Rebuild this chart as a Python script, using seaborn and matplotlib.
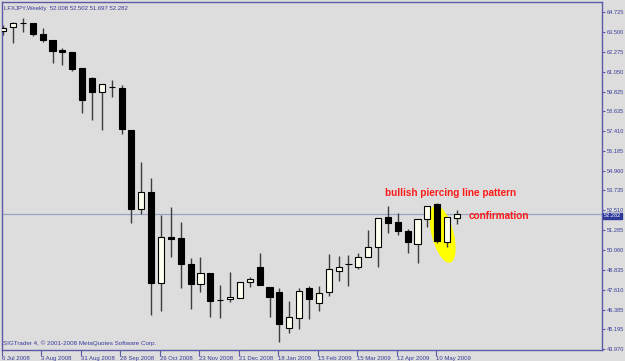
import numpy as np
import pandas as pd
import matplotlib
matplotlib.use("Agg")
import matplotlib.pyplot as plt
import seaborn as sns
from matplotlib.patches import Polygon

# ---- data (LFXJPY weekly, 6 Jul 2008 .. 24 May 2009) ----
opens  = [63.56, 63.80, 64.06, 64.05, 63.37, 63.00, 62.38, 62.26, 61.28, 60.66,
          59.80, 60.11, 60.04, 57.46, 52.59, 53.64, 48.03, 50.87, 50.81, 49.20,
          47.97, 48.65, 46.99, 47.05, 47.11, 48.10, 49.02, 47.79, 47.48, 45.26,
          45.88, 47.73, 46.80, 47.48, 48.77, 49.20, 49.02, 49.64, 50.25, 52.10,
          51.79, 51.24, 50.44, 51.98, 52.90, 50.56, 52.008]
highs  = [63.92, 64.11, 64.36, 64.07, 63.74, 63.02, 62.51, 62.28, 61.30, 60.72,
          60.30, 60.54, 60.23, 57.48, 55.49, 54.50, 52.22, 52.72, 51.79, 49.57,
          49.64, 48.67, 47.91, 48.71, 48.12, 48.40, 49.88, 47.81, 47.73, 46.93,
          47.73, 47.85, 47.85, 49.82, 49.70, 49.76, 49.88, 51.30, 52.06, 52.78,
          52.35, 51.36, 52.00, 52.80, 52.96, 52.12, 52.502]
lows   = [63.31, 62.82, 63.49, 63.25, 62.88, 61.58, 61.46, 61.09, 58.50, 58.07,
          57.46, 59.49, 57.21, 51.73, 52.28, 46.06, 46.31, 49.64, 47.73, 46.43,
          47.48, 45.94, 45.88, 46.86, 47.09, 47.79, 47.89, 45.94, 44.40, 44.96,
          45.20, 45.82, 46.31, 47.23, 48.16, 47.85, 48.90, 49.62, 49.02, 51.11,
          50.99, 49.88, 49.27, 51.48, 50.50, 50.25, 51.697]
closes = [63.74, 64.05, 64.03, 63.37, 63.00, 62.32, 62.26, 61.21, 59.31, 59.80,
          60.29, 60.09, 57.52, 52.59, 53.64, 48.03, 50.87, 50.74, 49.20, 47.97,
          48.65, 46.93, 46.97, 47.17, 48.10, 48.28, 47.91, 47.17, 45.51, 45.94,
          47.54, 47.05, 47.42, 48.90, 49.02, 49.18, 49.64, 50.25, 52.04, 51.73,
          51.24, 50.56, 51.98, 52.78, 50.62, 52.10, 52.282]
date_labels = ["6 Jul 2008", "3 Aug 2008", "31 Aug 2008", "28 Sep 2008",
               "26 Oct 2008", "23 Nov 2008", "21 Dec 2008", "18 Jan 2009",
               "15 Feb 2009", "15 Mar 2009", "12 Apr 2009", "10 May 2009"]
price_ticks = [64.725, 63.500, 62.275, 61.050, 59.825, 58.635, 57.410, 56.185,
               54.960, 53.735, 52.510, 51.285, 50.060, 48.835, 47.610, 46.385,
               45.195, 43.970]
last_price = 52.282
title_text = "LFXJPY,Weekly  52.008 52.502 51.697 52.282"
footer_text = "SIGTrader 4, \u00a9 2001-2008 MetaQuotes Software Corp."

df = pd.DataFrame({"open": opens, "high": highs, "low": lows, "close": closes})
df["idx"] = np.arange(len(df))
df["up"] = df["close"] > df["open"]

BG = "#dddddd"
FRAME = "#5a5aa6"
TXT = "#3a3a9a"

sns.set_theme(style="white", rc={"axes.facecolor": BG, "figure.facecolor": BG,
                                 "axes.edgecolor": FRAME})
plt.rcParams["font.family"] = ["Liberation Sans", "DejaVu Sans"]

fig = plt.figure(figsize=(6.25, 3.61), dpi=100)
ax = fig.add_axes([2 / 625, 11 / 361, 600 / 625, 348 / 361])
ax.set_xlim(-0.1, 60.7)
ax.set_ylim(43.91, 65.34)

# yellow highlight ellipse (drawn behind candles)
cx, cy = ax.transData.transform((44.55, 51.05))
t = np.linspace(0, 2 * np.pi, 100)
A = np.array([7.5, -28.5])       # semi-major (display px, y up)
B = np.array([10.6, 2.8])        # semi-minor
pts = np.column_stack([cx + np.cos(t) * A[0] + np.sin(t) * B[0],
                       cy + np.cos(t) * A[1] + np.sin(t) * B[1]])
pts = ax.transData.inverted().transform(pts)
ax.add_patch(Polygon(pts, closed=True, facecolor="#ffff00", edgecolor="none", zorder=1))

# wicks
ax.vlines(df["idx"], df["low"], df["high"], color="#3c3c3c", linewidth=1.0, zorder=2)

# bodies
body_bottom = np.minimum(df["open"], df["close"])
body_h = np.maximum((df["close"] - df["open"]).abs(), 0.02)
face = np.where(df["up"], "#fffff0", "#000000")
ax.bar(df["idx"], body_h, bottom=body_bottom, width=0.62, color=face,
       edgecolor="#000000", linewidth=0.8, zorder=3)

# current price line
ax.axhline(last_price, color="#9aa4c4", linewidth=0.9, zorder=0.5)

# axes styling
for s in ax.spines.values():
    s.set_color(FRAME)
    s.set_linewidth(1.0)

ax.yaxis.tick_right()
ax.set_yticks(price_ticks)
ax.set_yticklabels([f"{v:.3f}" for v in price_ticks], fontsize=4.1, color=TXT)
ax.tick_params(axis="y", right=True, length=2.5, width=0.8, color=FRAME, pad=0.8)

xt = list(range(0, 4 * len(date_labels), 4))
ax.set_xticks([x - 0.12 for x in xt])
ax.set_xticklabels(date_labels, fontsize=4.3, color=TXT, ha="left")
ax.tick_params(axis="x", bottom=True, length=4, width=0.8, color=FRAME, pad=0.5)

ax.grid(False)
ax.set_xlabel("")
ax.set_ylabel("")

# price label box
ax.text(1.003, last_price - 0.12, f"{last_price:.3f}", transform=ax.get_yaxis_transform(),
        fontsize=4.1, color="white", ha="left", va="center", zorder=10,
        bbox=dict(boxstyle="square,pad=0.15", facecolor="#2e3a9a", edgecolor="#2e3a9a"),
        clip_on=False)

# texts
ax.text(0.003, 0.988, title_text, transform=ax.transAxes, fontsize=4.3, color=TXT,
        ha="left", va="top")
ax.text(0.002, 0.012, footer_text, transform=ax.transAxes, fontsize=4.5, color=TXT,
        ha="left", va="bottom")

ax.text(38.7, 53.58, "bullish piercing line pattern", fontsize=7.2, color="#ff1a1a",
        ha="left", va="center", fontweight="bold")
ax.text(47.2, 52.16, "confirmation", fontsize=7.2, color="#ff1a1a",
        ha="left", va="center", fontweight="bold")

fig.savefig("out.png", dpi=100, facecolor=BG)
